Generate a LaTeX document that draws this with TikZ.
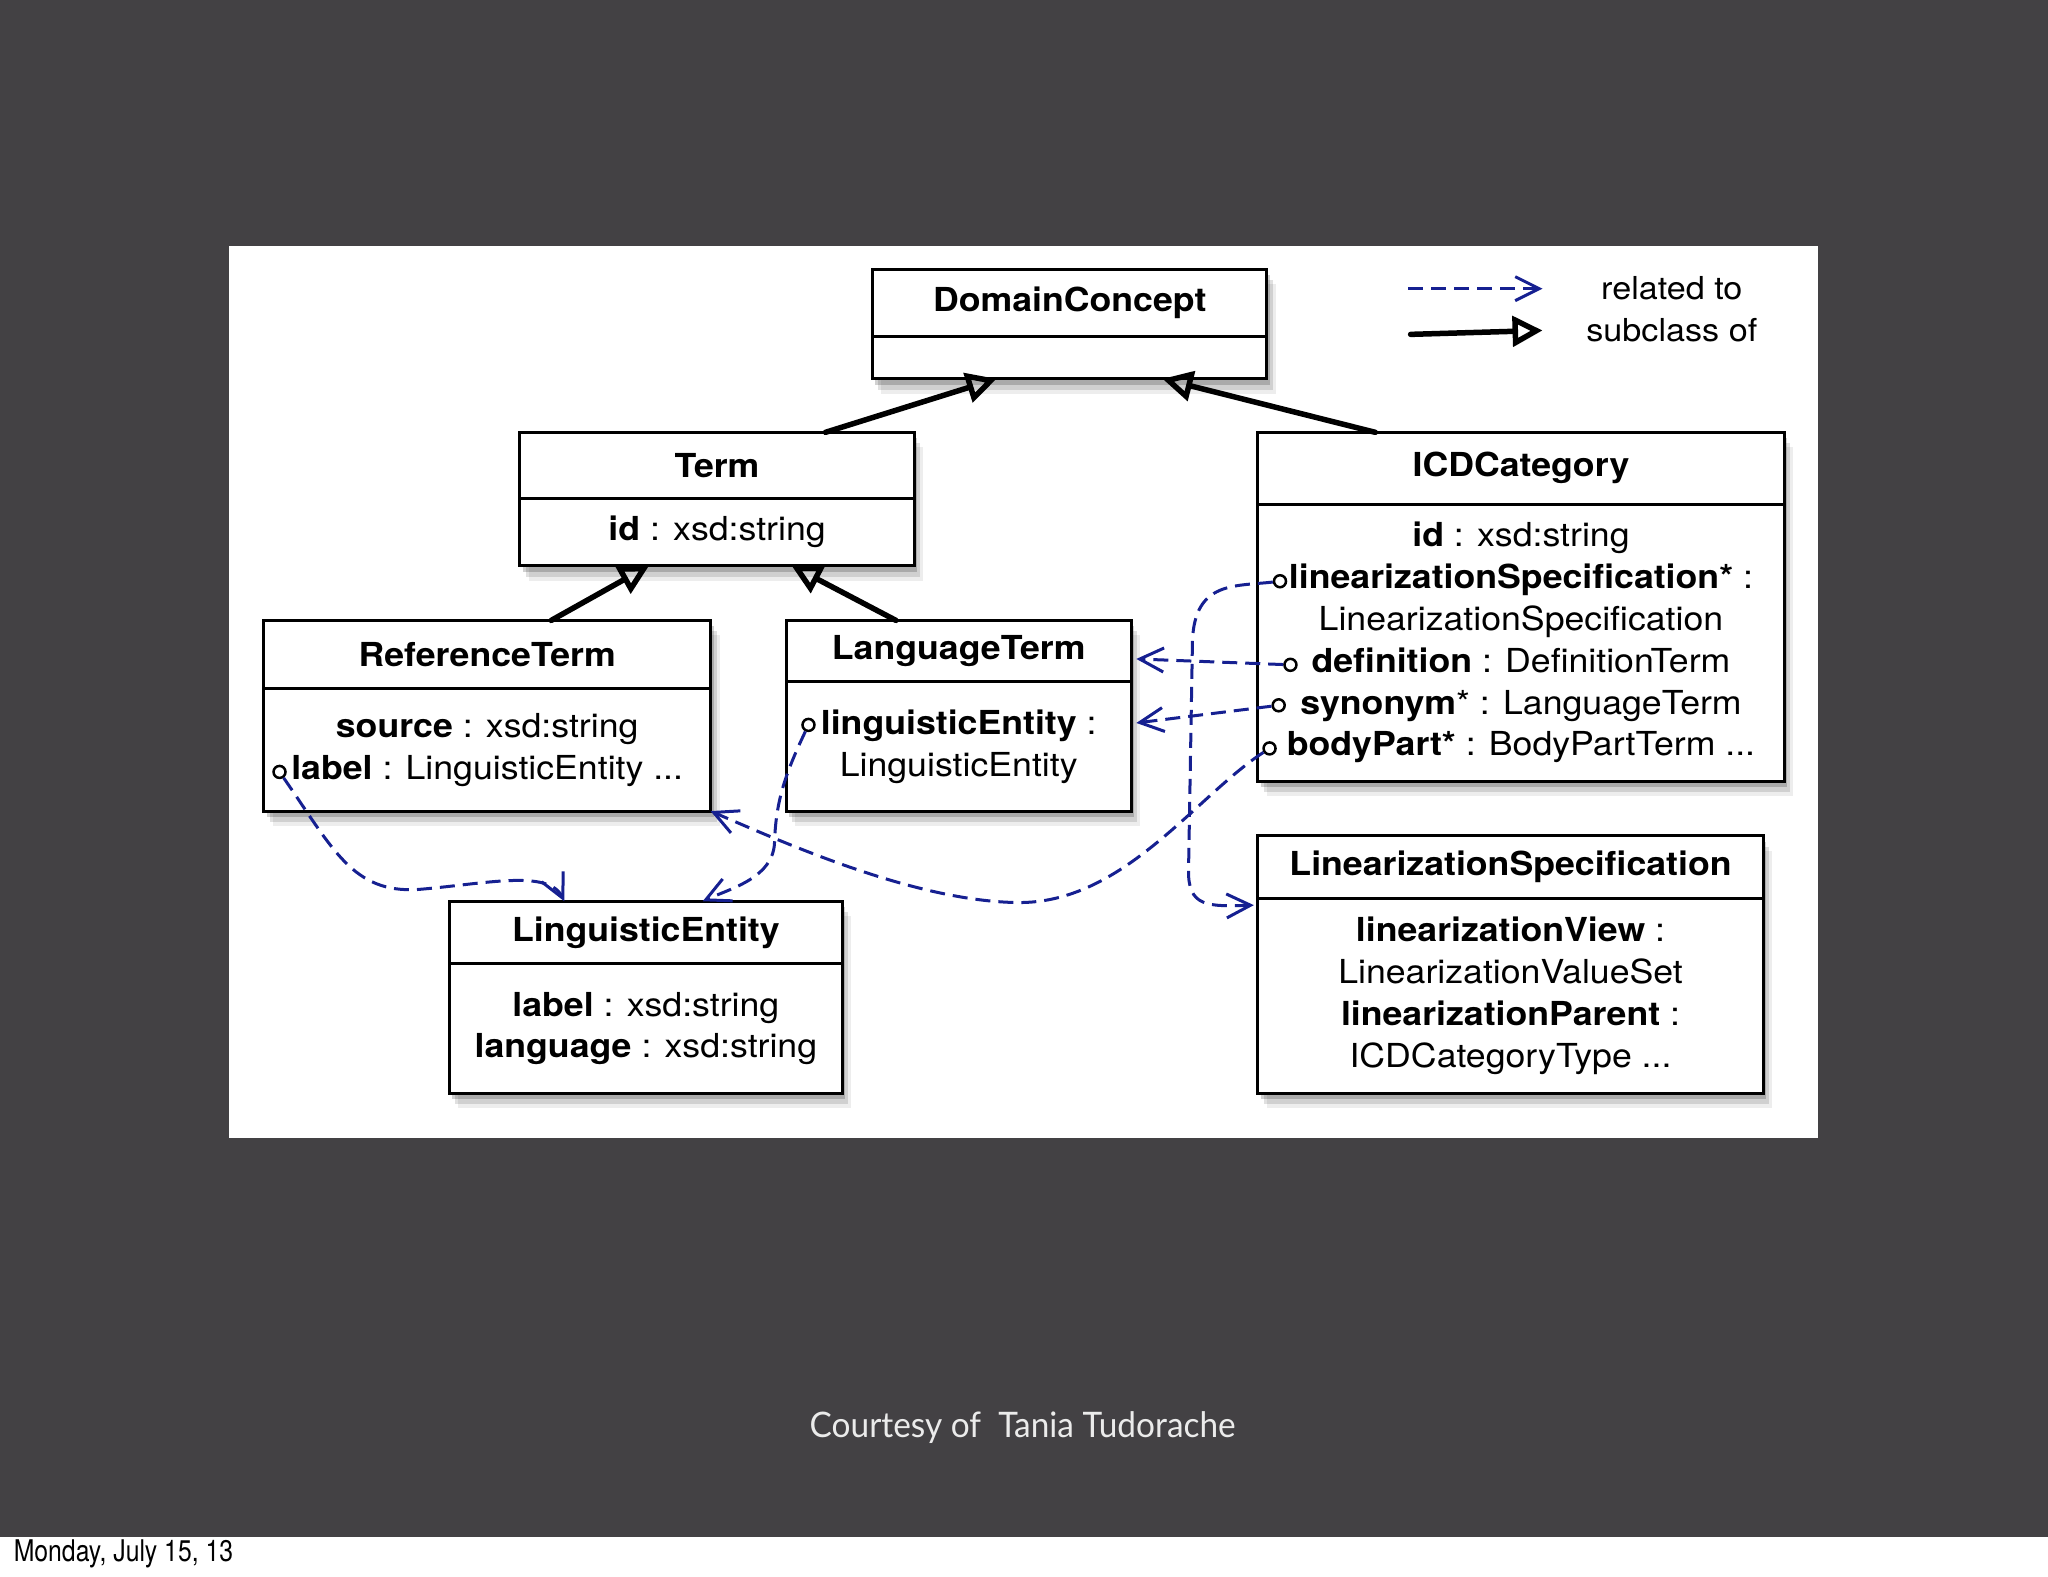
\documentclass[tikz,border=0pt]{standalone}
\usepackage{fontspec}
\setmainfont{TeX Gyre Heros}[FakeStretch=1.08]
\newfontfamily\courtesyfont{Lato}[FakeStretch=0.95]
\newfontfamily\datefont{TeX Gyre Heros}[FakeStretch=0.83]
\usetikzlibrary{positioning,fit,calc,shadows,arrows.meta}
\definecolor{slidegrey}{RGB}{67,65,68}
\definecolor{relblue}{RGB}{22,32,145}

\begin{document}
\begin{tikzpicture}[x=0.13061mm, y=-0.13061mm,
				classbox/.style={draw=black, line width=0.3mm, fill=white, inner sep=0pt, outer sep=0pt,
					drop shadow={shadow xshift=0.9mm, shadow yshift=-1.5mm, opacity=0.07, fill=black},
					drop shadow={shadow xshift=0.6mm, shadow yshift=-1.1mm, opacity=0.12, fill=black},
					drop shadow={shadow xshift=0.3mm, shadow yshift=-0.6mm, opacity=0.18, fill=black}},
				classsize/.style 2 args={minimum width=#1*0.13061mm, minimum height=#2*0.13061mm},
				classhead/.style={classbox, font=\fontsize{9.4}{11.9}\selectfont\bfseries},
				classbody/.style={classbox, align=center, font=\fontsize{9.4}{11.9}\selectfont},
				port/.style={circle, draw=black, line width=0.25mm, fill=white, inner sep=0pt, minimum size=1.2mm},
				legend/.style={font=\fontsize{9}{11}\selectfont},
				related/.style={draw=relblue, line width=0.3mm, dash pattern=on 1.5mm off 0.8mm,
					-{Straight Barb[length=2.4mm,width=2.4mm]}},
				subclass/.style={line width=0.55mm, line cap=round, -{Triangle[open,length=3mm,width=3mm]}}
			]
			\useasboundingbox (0,0) rectangle (1568,1207);
			\fill[white] (0,0) rectangle (1568,1207);
			\fill[slidegrey] (0,0) rectangle (1568,1177);
			\fill[white] (175,188) rectangle (1392,871);

			\node[classhead, classsize={302}{52}, anchor=north west] (dc-h) at (668,206) {DomainConcept};
			\node[classbody, classsize={302}{32}] (dc-b) [below=0pt of dc-h] {};
			\node[classhead, classsize={302}{51}, anchor=north west] (term-h) at (398,331) {Term};
			\node[classbody, classsize={302}{51}] (term-b) [below=0pt of term-h] {\textbf{id} : xsd:string};
			\node[classhead, classsize={403}{55}, anchor=north west] (icd-h) at (963,331) {ICDCategory};
			\node[classbody, classsize={403}{212}] (icd-b) [below=0pt of icd-h] {\textbf{id} : xsd:string\\
				\textbf{linearizationSpecification*} :\\ LinearizationSpecification\\
				\textbf{definition} : DefinitionTerm\\ \textbf{synonym}* : LanguageTerm\\
				\textbf{bodyPart*} : BodyPartTerm ...};
			\node[classhead, classsize={342}{52}, anchor=north west] (rt-h) at (202,475) {ReferenceTerm};
			\node[classbody, classsize={342}{94}] (rt-b) [below=0pt of rt-h] {\textbf{source} : xsd:string\\
				\textbf{label} : LinguisticEntity ...};
			\node[classhead, classsize={264}{47}, anchor=north west] (lt-h) at (602,475) {LanguageTerm};
			\node[classbody, classsize={264}{99}] (lt-b) [below=0pt of lt-h] {\textbf{linguisticEntity} :\\ LinguisticEntity};
			\node[classhead, classsize={301}{48}, anchor=north west] (le-h) at (344,690) {LinguisticEntity};
			\node[classbody, classsize={301}{99}] (le-b) [below=0pt of le-h] {\textbf{label} : xsd:string\\
				\textbf{language} : xsd:string};
			\node[classhead, classsize={387}{48}, anchor=north west] (ls-h) at (963,640) {LinearizationSpecification};
			\node[classbody, classsize={387}{149}] (ls-b) [below=0pt of ls-h] {\textbf{linearizationView} :\\
				LinearizationValueSet\\ \textbf{linearizationParent} :\\ ICDCategoryType ...};

			\node[port] (rt-label) at (214,591) {};
			\node[port] (lt-entity) at (619,555) {};
			\node[port] (icd-linspec) at (980,445) {};
			\node[port] (icd-def) at (988,509) {};
			\node[port] (icd-syn) at (979,540) {};
			\node[port] (icd-body) at (972,573) {};

			\draw[subclass] ($(term-h.north west)+(234,0)$) -- ($(dc-b.south west)+(95,0)$);
			\draw[subclass] ($(icd-h.north west)+(90,0)$) -- ($(dc-b.south west)+(222,0)$);
			\draw[subclass] ($(rt-h.north west)+(220,0)$) -- ($(term-b.south west)+(99,0)$);
			\draw[subclass] ($(lt-h.north west)+(84,0)$) -- ($(term-b.south west)+(208,0)$);

			\draw[related] (rt-label) .. controls (255,650) and (270,684) .. (320,681)
				.. controls (370,677) and (420,665) .. ($(le-h.north west)+(88,0)$);
			\draw[related] (lt-entity) .. controls (600,595) and (594,615) .. (593,645)
				.. controls (592,672) and (560,680) .. ($(le-h.north west)+(194,0)$);
			\draw[related] (icd-body) .. controls (915,610) and (860,692) .. (779,691)
				.. controls (700,690) and (600,645) .. (rt-b.south east);
			\draw[related] (icd-linspec) .. controls (945,449) and (915,445) .. (913,490) -- (910,665)
				.. controls (909,695) and (925,694) .. ($(ls-b.north west)+(-3,5)$);
			\draw[related] (icd-def) -- ($(lt-h.east)+(4,6)$);
			\draw[related] (icd-syn) -- ($(lt-b.east)+(4,-18)$);

			\coordinate (rel-a) at (1078,221);
			\coordinate (rel-b) at (1181,221);
			\coordinate (sub-a) at (1080,256);
			\coordinate (sub-b) at (1181,253);
			\draw[related] (rel-a) -- (rel-b);
			\draw[subclass] (sub-a) -- (sub-b);
			\node[legend] (rel-txt) at (1280,221) {related to};
			\node[legend] (sub-txt) at (1280,253) {subclass of};

			\node[text=white!92!black, font=\courtesyfont\fontsize{10}{12}\selectfont] (courtesy) at (783,1093) {Courtesy of\ \ Tania Tudorache};
			\node[anchor=west, inner sep=0pt, font=\datefont\fontsize{8.5}{10}\selectfont] (date) at (10,1190) {Monday, July 15, 13};
			\end{tikzpicture}
\end{document}
